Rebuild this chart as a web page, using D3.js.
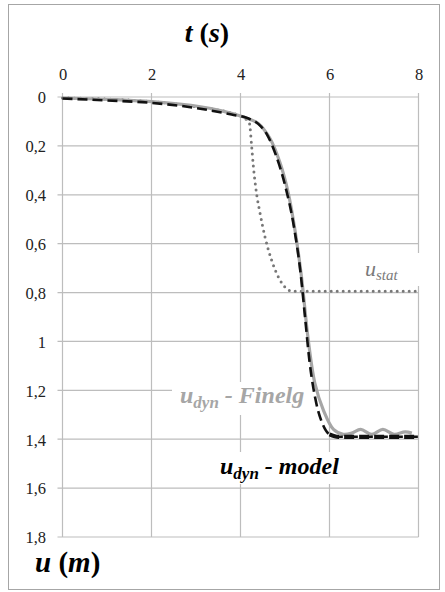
<!DOCTYPE html>
<html>
<head>
<meta charset="utf-8">
<script src="https://cdn.jsdelivr.net/npm/d3@7"></script>
<style>
  html, body { margin: 0; padding: 0; background: #fff; }
  svg { display: block; }
</style>
</head>
<body>
<script>
// ---- data ----
const xTicks = [0, 2, 4, 6, 8];
const yTicks = [0, 0.2, 0.4, 0.6, 0.8, 1, 1.2, 1.4, 1.6, 1.8];

const finelgT = [0, 1.2, 2, 3.1, 3.6, 4.0, 4.14, 4.4, 4.66, 4.89, 5.07, 5.22, 5.37, 5.41, 5.52, 5.67, 5.86, 6.09, 6.31, 6.5, 6.7, 6.95, 7.2, 7.45, 7.7, 7.85];
const finelgU = [0.004, 0.011, 0.019, 0.04, 0.058, 0.078, 0.087, 0.108, 0.169, 0.27, 0.39, 0.54, 0.735, 0.8, 0.99, 1.17, 1.28, 1.36, 1.38, 1.375, 1.36, 1.38, 1.36, 1.38, 1.37, 1.375];

const modelT = [0, 1, 2, 3, 3.8, 4.15, 4.4, 4.6, 4.8, 5.0, 5.2, 5.35, 5.45, 5.55, 5.7, 5.85, 6.0, 6.2, 8];
const modelU = [0.006, 0.014, 0.024, 0.045, 0.072, 0.086, 0.11, 0.155, 0.24, 0.36, 0.53, 0.72, 0.9, 1.08, 1.25, 1.34, 1.38, 1.39, 1.39];

const statT = [0, 2, 3, 4, 4.2, 4.25, 4.29, 4.36, 4.44, 4.55, 4.70, 4.81, 4.93, 5.05, 5.15, 8];
const statU = [0.004, 0.019, 0.04, 0.078, 0.108, 0.2, 0.285, 0.394, 0.476, 0.572, 0.668, 0.721, 0.762, 0.786, 0.795, 0.795];

const fmt = v => String(v).replace('.', ',');

// ---- layout ----
const W = 445, H = 592;
const serif = 'Liberation Serif';
const svg = d3.select('body').append('svg').attr('width', W).attr('height', H);

svg.append('rect').attr('x', 8.5).attr('y', 4.5).attr('width', 431).attr('height', 585)
  .attr('fill', '#fff').attr('stroke', '#a6a6a6').attr('stroke-width', 1);

const x = d3.scaleLinear().domain([0, 8]).range([62.5, 418.5]);
const y = d3.scaleLinear().domain([0, 1.8]).range([97, 537]);

const gridCol = '#bdbdbd';
const g = svg.append('g');

g.selectAll('.vg').data(xTicks).join('line')
  .attr('x1', d => x(d)).attr('x2', d => x(d))
  .attr('y1', y(0) - 4).attr('y2', y(1.8))
  .attr('stroke', gridCol).attr('stroke-width', 1.2);
g.selectAll('.hg').data(yTicks).join('line')
  .attr('x1', x(0) - 5).attr('x2', x(8))
  .attr('y1', d => y(d)).attr('y2', d => y(d))
  .attr('stroke', gridCol).attr('stroke-width', 1.2);

const xAxis = d3.axisTop(x).tickValues(xTicks).tickFormat(fmt).tickSize(0).tickPadding(0);
const xa = svg.append('g').attr('transform', `translate(0,80)`).call(xAxis);
xa.select('.domain').remove();
xa.selectAll('text').attr('fill', '#222').attr('dy', 0).attr('font-size', 16.5);

const yAxis = d3.axisLeft(y).tickValues(yTicks).tickFormat(fmt).tickSize(0).tickPadding(0);
const ya = svg.append('g').attr('transform', `translate(46,0)`).call(yAxis);
ya.select('.domain').remove();
ya.selectAll('text').attr('fill', '#222').attr('dy', '0.35em').attr('font-size', 16.5);

const lab = svg.append('g');
lab.append('rect').attr('x', 360).attr('y', 253).attr('width', 62).attr('height', 33).attr('fill', '#fff');
lab.append('rect').attr('x', 172).attr('y', 382).attr('width', 142).attr('height', 33).attr('fill', '#fff');
lab.append('rect').attr('x', 212).attr('y', 452).attr('width', 142).attr('height', 32).attr('fill', '#fff');

const line = d3.line().x(d => x(d[0])).y(d => y(d[1])).curve(d3.curveMonotoneX);
const zip = (a, b) => a.map((v, i) => [v, b[i]]);

svg.append('path').datum(zip(statT, statU)).attr('d', line)
  .attr('fill', 'none').attr('stroke', '#777').attr('stroke-width', 3)
  .attr('stroke-linecap', 'round').attr('stroke-dasharray', '0 6');

svg.append('path').datum(zip(finelgT, finelgU)).attr('d', d3.line().x(d => x(d[0])).y(d => y(d[1])).curve(d3.curveCatmullRom))
  .attr('fill', 'none').attr('stroke', '#a6a6a6').attr('stroke-width', 3.2);

svg.append('path').datum(zip(modelT, modelU)).attr('d', line)
  .attr('fill', 'none').attr('stroke', '#111').attr('stroke-width', 2.6)
  .attr('stroke-dasharray', '10 5');
svg.append('path').datum(zip(modelT, modelU).filter(d => d[0] >= 6)).attr('d', line)
  .attr('fill', 'none').attr('stroke', '#111').attr('stroke-width', 4.2)
  .attr('stroke-dasharray', '10 5');

const t1 = svg.append('text').attr('x', 365).attr('y', 276)
  .attr('font-style', 'italic').attr('fill', '#7a7a7a');
t1.append('tspan').attr('font-size', 22).attr('font-style', 'italic').text('u');
t1.append('tspan').attr('font-size', 15).attr('font-style', 'italic').attr('dy', 4).text('stat');

const t2 = svg.append('text').attr('x', 180).attr('y', 403)
  .attr('font-style', 'italic').attr('font-weight', 'bold').attr('fill', '#a6a6a6');
t2.append('tspan').attr('font-size', 24).text('u');
t2.append('tspan').attr('font-size', 17).attr('dy', 5).text('dyn');
t2.append('tspan').attr('font-size', 24).attr('dy', -5).text(' - Finelg');

const t3 = svg.append('text').attr('x', 220).attr('y', 474)
  .attr('font-style', 'italic').attr('font-weight', 'bold').attr('fill', '#000');
t3.append('tspan').attr('font-size', 24).text('u');
t3.append('tspan').attr('font-size', 17).attr('dy', 5).text('dyn');
t3.append('tspan').attr('font-size', 24).attr('dy', -5).text(' - model');

const tt = svg.append('text').attr('x', 207).attr('y', 42).attr('text-anchor', 'middle')
  .attr('font-weight', 'bold').attr('font-size', 28).attr('fill', '#000');
tt.append('tspan').attr('font-style', 'italic').text('t');
tt.append('tspan').attr('font-style', 'normal').text(' (');
tt.append('tspan').attr('font-style', 'italic').text('s');
tt.append('tspan').attr('font-style', 'normal').text(')');

const ut = svg.append('text').attr('x', 35).attr('y', 572)
  .attr('font-weight', 'bold').attr('font-size', 29).attr('fill', '#000');
ut.append('tspan').attr('font-style', 'italic').text('u');
ut.append('tspan').attr('font-style', 'normal').text(' (');
ut.append('tspan').attr('font-style', 'italic').text('m');
ut.append('tspan').attr('font-style', 'normal').text(')');

svg.selectAll('g').attr('font-family', serif);
svg.selectAll('text').attr('font-family', serif);
svg.selectAll('tspan').attr('font-family', serif);
</script>
</body>
</html>
